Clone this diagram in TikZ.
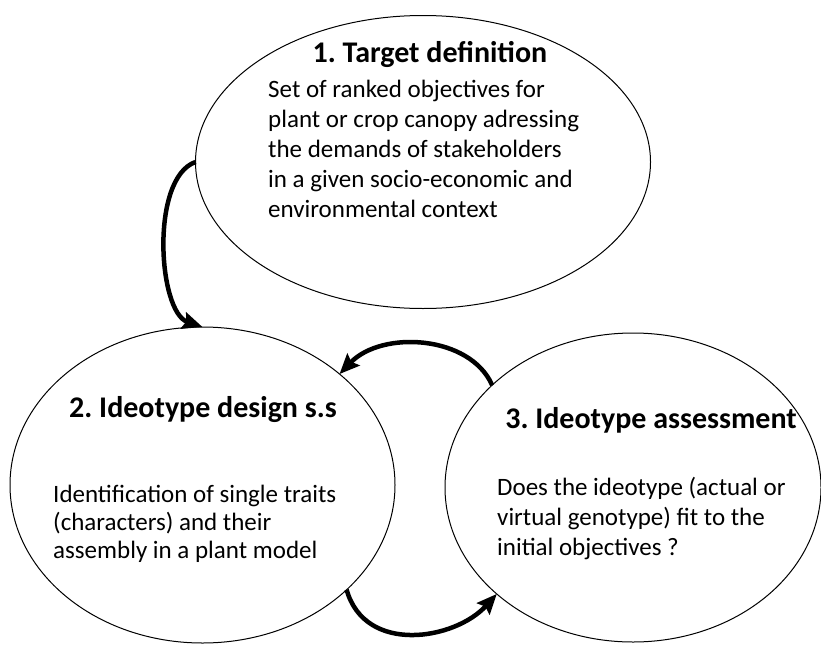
\documentclass[tikz,border=0pt]{standalone}
\usepackage{fontspec}
\setmainfont{Carlito}
\frenchspacing
\usetikzlibrary{shapes.geometric,arrows.meta}

\begin{document}
\begin{tikzpicture}[x=1pt,y=-1pt,
    bubble/.style={draw, ellipse, line width=1pt, inner sep=0pt, outer sep=0pt},
    heading/.style={font=\fontsize{30}{36}\selectfont\bfseries, anchor=base, inner sep=0pt},
    bodytext/.style={font=\fontsize{25}{30}\selectfont, align=left, anchor=north west, inner sep=0pt},
    cyclearrow/.style={line width=4.5pt, -{Stealth[length=20pt,width=17pt,inset=3pt]}}]
    \useasboundingbox (0,0) rectangle (821,645);

    \node[bubble, minimum width=455pt, minimum height=293pt] (e1) at (423,162) {};
    \node[bubble, minimum width=385pt, minimum height=316pt] (e2) at (202.5,485) {};
    \node[bubble, minimum width=376pt, minimum height=309pt] (e3) at (633,487.5) {};

    \node[heading] (t1) at (430,62) {1. Target definition};
    \node[bodytext] (b1) at (268,76) {\strut Set of ranked objectives for\\
        plant or crop canopy adressing\\
        the demands of stakeholders\\
        in a given socio-economic and\\
        environmental context};

    \node[heading] (t2) at (203,417) {2. Ideotype design s.s};
    \node[bodytext, font=\fontsize{25}{28}\selectfont] (b2) at (53,483) {\strut Identification of single traits\\
        (characters) and their\\
        assembly in a plant model};

    \node[heading] (t3) at (651,428) {3. Ideotype assessment};
    \node[bodytext] (b3) at (497,474) {\strut Does the ideotype (actual or\\
        virtual genotype) fit to the\\
        initial objectives ?};

    \draw [cyclearrow] (e1.west) .. controls (150,178) and (158,312) .. (e2.north);
    \draw [cyclearrow] (e3.144) .. controls (470,335) and (382,330) .. (e2.39);
    \draw [cyclearrow] (e2.-36) .. controls (365,655) and (455,640) .. (e3.218);
\end{tikzpicture}
\end{document}
